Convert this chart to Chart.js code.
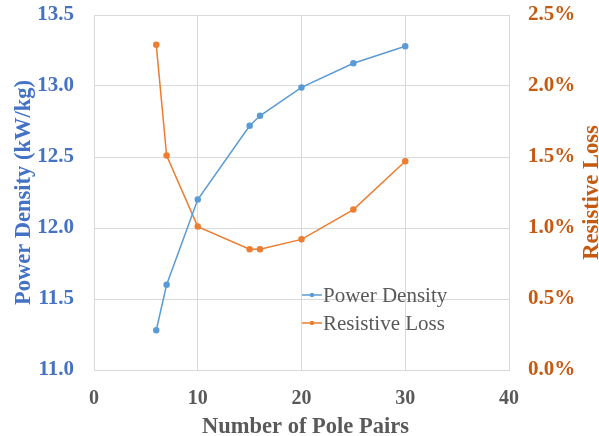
<!DOCTYPE html>
<html>
<head>
<meta charset="utf-8">
<script src="https://cdn.jsdelivr.net/npm/chart.js@4"></script>
<style>
html,body{margin:0;padding:0;background:#fff;}
#wrap{width:599px;height:436px;}
</style>
</head>
<body>
<div id="wrap"><canvas id="c" width="599" height="436"></canvas></div>
<script>
const polePairs = [6, 7, 10, 15, 16, 20, 25, 30];
const powerDensity = [11.28, 11.60, 12.20, 12.72, 12.79, 12.99, 13.16, 13.28];
const resistiveLoss = [2.29, 1.51, 1.01, 0.85, 0.85, 0.92, 1.13, 1.47];
const seriesNames = ['Power Density', 'Resistive Loss'];
const xTitle = 'Number of Pole Pairs';
const yTitle = 'Power Density (kW/kg)';
const y1Title = 'Resistive Loss';

const BLUE = '#5B9BD5', ORANGE = '#ED7D31';
const BLUE_T = '#4472C4', ORANGE_T = '#C55A11', GRAY_T = '#595959', GRID = '#D9D9D9';
const SERIF = '"Liberation Serif", "Times New Roman", serif';

const titlesPlugin = {
  id: 'titles',
  afterDraw(chart) {
    const ctx = chart.ctx, a = chart.chartArea;
    ctx.save();
    ctx.font = 'bold 22.5px ' + SERIF;
    ctx.fillStyle = GRAY_T;
    ctx.textAlign = 'center';
    ctx.textBaseline = 'alphabetic';
    ctx.fillText(xTitle, (a.left + a.right) / 2 + 4, 433);
    const cy = (a.top + a.bottom) / 2;
    ctx.save();
    ctx.translate(30, cy);
    ctx.rotate(-Math.PI / 2);
    ctx.fillStyle = BLUE_T;
    ctx.fillText(yTitle, 0, 0);
    ctx.restore();
    ctx.save();
    ctx.translate(598, cy);
    ctx.rotate(-Math.PI / 2);
    ctx.fillStyle = ORANGE_T;
    ctx.fillText(y1Title, 0, 0);
    ctx.restore();
    ctx.font = '21px ' + SERIF;
    ctx.textAlign = 'left';
    ctx.textBaseline = 'middle';
    const rows = [[BLUE, 295], [ORANGE, 323]];
    rows.forEach((r, i) => {
      const [col, y] = r;
      ctx.strokeStyle = col; ctx.lineWidth = 1.5;
      ctx.beginPath(); ctx.moveTo(302, y); ctx.lineTo(322, y); ctx.stroke();
      ctx.fillStyle = col;
      ctx.beginPath(); ctx.arc(312, y, 2.2, 0, Math.PI * 2); ctx.fill();
      ctx.fillStyle = GRAY_T;
      ctx.fillText(seriesNames[i], 323, y + 1);
    });
    ctx.restore();
  }
};

function noPad(s) { s.paddingTop = 0; s.paddingBottom = 0; s.paddingLeft = 0; s.paddingRight = 0; }

new Chart(document.getElementById('c'), {
  type: 'line',
  data: {
    labels: polePairs,
    datasets: [
      {
        label: seriesNames[0],
        data: polePairs.map((x, i) => ({x: x, y: powerDensity[i]})),
        borderColor: BLUE, backgroundColor: BLUE,
        borderWidth: 1.5, pointRadius: 2.5, pointHoverRadius: 2.5,
        yAxisID: 'y', tension: 0
      },
      {
        label: seriesNames[1],
        data: polePairs.map((x, i) => ({x: x, y: resistiveLoss[i]})),
        borderColor: ORANGE, backgroundColor: ORANGE,
        borderWidth: 1.5, pointRadius: 2.5, pointHoverRadius: 2.5,
        yAxisID: 'y1', tension: 0
      }
    ]
  },
  options: {
    responsive: false,
    animation: false,
    devicePixelRatio: 1,
    layout: {padding: {top: 15, left: 0, right: 0, bottom: 0}},
    plugins: {legend: {display: false}, tooltip: {enabled: false}},
    scales: {
      x: {
        type: 'linear', min: 0, max: 40,
        ticks: {stepSize: 10, color: GRAY_T, padding: 17, font: {family: SERIF, size: 20, weight: 'bold'}},
        grid: {color: GRID, drawTicks: false},
        border: {color: GRID},
        afterFit(s) { s.height = 66; noPad(s); }
      },
      y: {
        position: 'left', min: 11, max: 13.5,
        ticks: {stepSize: 0.5, color: BLUE_T, padding: 20, font: {family: SERIF, size: 21, weight: 'bold'},
          callback: v => v.toFixed(1)},
        grid: {color: GRID, drawTicks: false},
        border: {color: GRID},
        afterFit(s) { s.width = 94; noPad(s); }
      },
      y1: {
        position: 'right', min: 0, max: 2.5,
        ticks: {stepSize: 0.5, color: ORANGE_T, padding: 19, font: {family: SERIF, size: 21, weight: 'bold'},
          callback: v => v.toFixed(1) + '%'},
        grid: {drawOnChartArea: false, drawTicks: false},
        border: {display: false},
        afterFit(s) { s.width = 90; noPad(s); }
      }
    }
  },
  plugins: [titlesPlugin]
});
</script>
</body>
</html>
